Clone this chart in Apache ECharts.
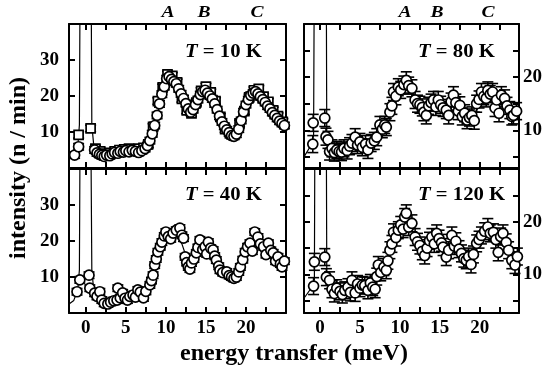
<!DOCTYPE html>
<html>
<head>
<meta charset="utf-8">
<script src="https://cdn.jsdelivr.net/npm/echarts@6/dist/echarts.min.js"></script>
<style>
  html, body { margin: 0; padding: 0; background: #fff; }
  #chart { width: 553px; height: 370px; }
</style>
</head>
<body>
<div id="chart"></div>
<script>
// energy transfer (meV) vs intensity (n / min), four temperatures
var t10Circles = [[-1.4,3.6],[-0.9,5.9],[1.1,5.0],[1.4,4.2],[1.7,3.8],[2.0,3.5],[2.3,3.2],[2.6,3.6],[3.0,3.4],[3.3,3.9],[3.6,4.3],[4.0,4.1],[4.3,4.6],[4.7,4.4],[5.0,4.8],[5.4,4.5],[5.8,4.9],[6.2,4.6],[6.6,4.3],[7.0,4.8],[7.4,5.4],[7.7,6.2],[8.0,7.6],[8.3,9.5],[8.6,11.8],[8.9,14.6],[9.2,17.8],[9.5,20.5],[9.8,22.6],[10.1,24.8],[10.4,25.4],[10.7,24.6],[11.0,24.0],[11.3,23.4],[11.6,22.0],[11.9,20.6],[12.2,19.3],[12.5,17.9],[12.8,16.4],[13.1,15.5],[13.4,16.2],[13.7,17.6],[14.0,19.0],[14.3,20.4],[14.6,21.2],[14.9,21.6],[15.2,20.8],[15.5,20.0],[15.8,19.2],[16.1,17.8],[16.4,16.2],[16.7,14.4],[17.0,12.8],[17.3,11.6],[17.6,10.6],[17.9,9.8],[18.2,9.0],[18.5,8.8],[18.8,9.4],[19.1,10.8],[19.4,13.2],[19.7,15.6],[20.0,17.6],[20.3,19.0],[20.6,20.2],[20.9,20.8],[21.2,21.2],[21.5,20.6],[21.8,19.8],[22.1,19.0],[22.4,18.2],[22.7,17.2],[23.0,16.4],[23.3,15.4],[23.6,14.6],[23.9,13.8],[24.2,13.0],[24.5,12.4],[24.8,11.8]];
var t10Squares = [[-0.9,9.2],[0.6,11.0],[1.2,5.4],[1.8,4.6],[2.4,4.0],[3.0,4.2],[3.6,4.6],[4.2,5.0],[4.8,5.2],[5.4,5.4],[6.0,5.2],[6.6,5.4],[7.2,5.6],[7.8,6.6],[8.4,11.4],[9.0,18.6],[9.6,22.4],[10.2,26.0],[10.8,25.6],[11.4,23.8],[12.0,19.2],[12.6,16.0],[13.2,15.2],[13.8,18.2],[14.4,21.4],[15.0,22.6],[15.6,21.0],[16.2,18.6],[16.8,14.2],[17.4,10.8],[18.0,9.6],[18.6,9.4],[19.2,12.4],[19.8,15.8],[20.4,19.6],[21.0,21.6],[21.6,22.0],[22.2,19.8],[22.8,18.4],[23.4,16.0],[24.0,14.4],[24.6,12.8]];
var t10Fit = [[-2.1,2.5],[-1.5,3.5],[-1.0,6],[-0.8,12],[-0.7,60],[0.65,60],[0.75,12],[1.0,6],[1.5,4.5],[2.5,3.9],[4,4.3],[5.5,4.7],[7,5],[7.8,6.5],[8.5,10.5],[9.2,17.5],[9.8,22.5],[10.3,24.8],[10.9,24.6],[11.6,22.2],[12.4,18.2],[13.1,16.2],[13.8,17.8],[14.6,20.4],[15.2,20.6],[15.9,18.6],[16.8,14.0],[17.6,10.6],[18.4,9.2],[19.1,10.8],[19.8,15.4],[20.5,19.2],[21.2,20.6],[22,19.4],[23,16.6],[24,13.8],[25,11.6]];

var t40Points = [[-1.1,5.9],[-0.75,9.2],[0.4,10.5],[0.5,6.9],[1.1,5.5],[1.4,4.6],[1.75,5.9],[2.0,3.6],[2.3,2.7],[2.75,2.5],[3.1,3.0],[3.5,3.4],[3.9,3.6],[4.0,6.9],[4.3,4.2],[4.6,5.6],[4.9,4.1],[5.2,3.6],[5.5,4.6],[5.9,5.0],[6.2,4.4],[6.5,6.4],[6.8,5.8],[7.2,4.2],[7.5,6.0],[8.0,7.8],[8.2,9.0],[8.4,10.5],[8.6,13.3],[8.8,15.0],[9.0,17.0],[9.3,18.4],[9.5,19.7],[9.8,21.4],[10.0,22.5],[10.3,21.2],[10.6,20.6],[10.9,22.2],[11.3,23.0],[11.75,23.6],[12.0,21.6],[12.2,20.8],[12.4,15.6],[12.6,14.0],[12.8,12.8],[13.0,12.2],[13.2,13.9],[13.5,15.0],[13.8,16.7],[14.0,18.2],[14.25,20.3],[14.6,17.6],[14.9,18.4],[15.1,16.4],[15.3,19.7],[15.6,18.0],[15.9,17.5],[16.1,15.8],[16.3,14.7],[16.6,13.0],[16.75,11.9],[17.1,11.2],[17.6,11.4],[17.9,10.4],[18.2,10.0],[18.5,9.6],[18.8,10.0],[19.1,11.4],[19.3,12.8],[19.6,14.8],[19.9,17.0],[20.2,18.4],[20.5,19.4],[20.8,17.2],[21.1,22.5],[21.5,21.1],[21.8,19.2],[22.2,18.4],[22.5,16.2],[22.8,19.4],[23.1,17.4],[23.4,16.7],[23.7,14.4],[24.0,15.6],[24.3,13.6],[24.5,12.8],[24.8,14.4]];
var t40Fit = [[-2.1,2.5],[-1.5,3.5],[-1.0,6.5],[-0.8,12],[-0.7,60],[0.6,60],[0.75,12],[1.0,6],[1.6,4.2],[2.5,3.2],[4,3.8],[5.5,4.4],[7,5.2],[7.8,6.8],[8.5,11],[9.2,17.5],[9.8,20.8],[10.5,21.6],[11.4,21.4],[12.0,19.2],[12.7,14.6],[13.2,14.2],[14.0,17.0],[14.8,18.2],[15.6,17.4],[16.4,14.2],[17.2,11.4],[18.0,10.2],[18.7,10.0],[19.4,13.0],[20.2,17.2],[21.0,19.2],[21.8,18.6],[22.6,17.4],[23.4,15.8],[24.2,13.8],[25,12.4]];

var t80Points = [[-0.9,7.4],[-0.85,11.4],[0.6,12.3],[0.75,8.8],[1.0,8.2],[1.2,6.0],[1.5,6.6],[1.8,5.8],[2.1,6.3],[2.4,6.0],[2.7,5.9],[3.0,6.6],[3.4,6.2],[3.7,7.0],[4.0,7.6],[4.4,8.7],[4.7,7.2],[5.0,7.8],[5.3,6.8],[5.7,7.4],[6.0,6.3],[6.4,7.6],[6.8,8.0],[7.1,8.7],[7.5,11.0],[7.8,10.2],[8.1,11.0],[8.3,10.6],[8.75,13.4],[9.0,14.6],[9.2,17.2],[9.5,16.4],[9.8,18.1],[10.1,17.6],[10.5,18.6],[10.8,19.4],[11.1,18.4],[11.5,17.9],[11.9,15.7],[12.2,15.0],[12.5,14.8],[12.8,14.3],[13.0,13.4],[13.3,12.8],[13.6,14.6],[13.9,15.2],[14.2,15.7],[14.5,14.4],[14.8,15.7],[15.1,14.8],[15.4,14.2],[15.8,13.8],[16.1,12.8],[16.4,15.4],[16.7,16.6],[17.0,15.2],[17.3,13.6],[17.5,14.7],[17.8,12.6],[18.1,13.2],[18.4,11.9],[18.7,12.4],[19.0,12.8],[19.3,11.8],[19.6,15.0],[19.9,15.8],[20.2,17.2],[20.5,16.4],[20.8,16.0],[21.0,17.5],[21.3,16.8],[21.6,17.2],[21.9,14.2],[22.1,15.7],[22.4,13.2],[22.7,16.6],[23.1,16.0],[23.4,14.6],[23.75,13.8],[24.0,12.6],[24.2,12.8],[24.6,13.6]];
var t80Fit = [[-2,5],[-1.2,7],[-0.8,9],[-0.6,80],[0.7,80],[0.85,9],[1.2,7],[2,6.2],[3.5,6.6],[5,7.2],[6.5,7.8],[7.5,9.2],[8.5,12.0],[9.5,16.2],[10.5,18.4],[11.3,17.8],[12.2,15.4],[13.2,13.8],[14.2,14.8],[15.0,15.0],[16.0,14.2],[16.8,14.6],[17.8,13.4],[18.8,12.4],[19.6,13.8],[20.5,16.0],[21.3,16.6],[22.2,15.6],[23.2,14.4],[24.2,13.2],[25,12.6]];

var t120Points = [[-0.8,7.8],[-0.7,12.4],[0.6,13.3],[0.8,9.5],[1.2,8.9],[1.5,7.2],[1.8,6.4],[2.1,7.4],[2.5,6.8],[2.8,6.2],[3.1,7.0],[3.5,7.6],[3.8,6.6],[4.0,8.9],[4.4,6.5],[4.7,8.2],[5.0,7.4],[5.3,8.0],[5.6,7.9],[6.0,7.0],[6.3,8.4],[6.6,7.6],[6.9,7.2],[7.1,9.6],[7.3,11.8],[7.6,10.4],[8.0,11.4],[8.3,10.8],[8.5,12.6],[8.75,14.6],[9.0,15.8],[9.2,18.0],[9.5,17.0],[9.8,18.4],[10.1,19.4],[10.4,18.6],[10.6,20.9],[10.8,21.6],[11.1,19.0],[11.5,19.7],[11.9,17.1],[12.2,16.2],[12.5,15.5],[12.8,14.4],[13.1,13.6],[13.4,15.0],[13.7,16.4],[14.0,17.1],[14.3,15.8],[14.6,17.8],[14.9,16.8],[15.2,16.0],[15.4,15.2],[15.8,13.3],[16.1,14.6],[16.5,17.4],[16.8,15.4],[17.0,16.3],[17.4,14.8],[17.7,14.0],[18.0,13.0],[18.3,12.7],[18.6,13.4],[18.9,11.9],[19.2,13.8],[19.6,15.9],[19.9,16.6],[20.2,17.4],[20.6,18.2],[21.0,19.0],[21.3,17.8],[21.7,18.0],[22.0,16.6],[22.3,14.2],[22.6,17.2],[22.9,17.8],[23.3,16.1],[23.6,14.6],[24.0,12.7],[24.4,11.8],[24.7,13.4]];
var t120Fit = [[-2,5.5],[-1.2,7.2],[-0.7,9],[-0.55,80],[0.7,80],[0.85,10],[1.2,8],[2,7],[3.5,7.2],[5,7.6],[6.5,8.2],[7.5,10.0],[8.5,13.0],[9.5,17.4],[10.6,19.8],[11.4,18.8],[12.3,16.0],[13.2,14.6],[14.2,16.2],[15.0,16.0],[16.0,15.2],[16.8,15.8],[17.8,14.0],[18.8,13.0],[19.6,15.0],[20.5,17.4],[21.3,17.8],[22.2,16.4],[23.2,15.0],[24.2,13.0],[25,12.4]];

var xTicks = [0, 2.5, 5, 7.5, 10, 12.5, 15, 17.5, 20, 22.5];
var xTickLabels = [0, 5, 10, 15, 20];
var leftYTicks = [10, 20, 30];
var rightYTicks = [5, 10, 15, 20, 25];
var rightYLabels = [10, 20];
var errLeft = 0.9;
var errRight = 1.6;

var FONT = "'Liberation Serif', 'DejaVu Serif', serif";
var chart = echarts.init(document.getElementById('chart'));

var panels = [
  { left: 69, top: 24, width: 217, xmin: -2.1, xmax: 25, ymin: 0, ymax: 40, side: 'left', bottomLabels: false },
  { left: 304, top: 24, width: 215, xmin: -2, xmax: 24.9, ymin: 2.9, ymax: 30, side: 'right', bottomLabels: false },
  { left: 69, top: 169, width: 217, xmin: -2.1, xmax: 25, ymin: 0, ymax: 40, side: 'left', bottomLabels: true },
  { left: 304, top: 169, width: 215, xmin: -2, xmax: 24.9, ymin: 2.7, ymax: 30, side: 'right', bottomLabels: true }
];

var grids = [], xAxes = [], yAxes = [];
var lineStyle = { color: '#000', width: 2 };
var labelStyle = { color: '#000', fontFamily: FONT, fontWeight: 'bold', fontSize: 19 };
panels.forEach(function (p, i) {
  grids.push({ left: p.left, top: p.top, width: p.width, height: 144 });
  ['bottom', 'top'].forEach(function (pos) {
    xAxes.push({
      gridIndex: i, type: 'value', position: pos, min: p.xmin, max: p.xmax,
      axisLine: { show: true, onZero: false, lineStyle: lineStyle },
      axisTick: { show: true, inside: true, length: 6, lineStyle: lineStyle, customValues: xTicks },
      axisLabel: Object.assign({ show: pos === 'bottom' && p.bottomLabels, customValues: xTickLabels, margin: 6 }, labelStyle),
      splitLine: { show: false }
    });
  });
  ['left', 'right'].forEach(function (pos) {
    var ticks = p.side === 'left' ? leftYTicks : rightYTicks;
    var labels = p.side === 'left' ? leftYTicks : rightYLabels;
    yAxes.push({
      gridIndex: i, type: 'value', position: pos, min: p.ymin, max: p.ymax,
      axisLine: { show: true, onZero: false, lineStyle: lineStyle },
      axisTick: { show: true, inside: true, length: 6, lineStyle: lineStyle, customValues: ticks },
      axisLabel: Object.assign({ show: pos === p.side, customValues: labels, margin: pos === 'left' ? 10 : 4 }, labelStyle),
      splitLine: { show: false }
    });
  });
});

function fitSeries(i, data) {
  return {
    type: 'line', xAxisIndex: 2 * i, yAxisIndex: 2 * i, data: data, showSymbol: false,
    lineStyle: { color: '#000', width: 1.2 }, clip: true, z: 1, silent: true
  };
}
function errSeries(i, data, err) {
  return {
    type: 'custom', xAxisIndex: 2 * i, yAxisIndex: 2 * i, z: 2, silent: true,
    data: data.map(function (d) { return [d[0], d[1] - err, d[1] + err]; }),
    renderItem: function (params, api) {
      var lo = api.coord([api.value(0), api.value(1)]);
      var hi = api.coord([api.value(0), api.value(2)]);
      var w = 5.5;
      var st = { stroke: '#000', lineWidth: 1.6 };
      return {
        type: 'group',
        children: [
          { type: 'line', shape: { x1: lo[0], y1: lo[1], x2: hi[0], y2: hi[1] }, style: st },
          { type: 'line', shape: { x1: lo[0] - w, y1: lo[1], x2: lo[0] + w, y2: lo[1] }, style: st },
          { type: 'line', shape: { x1: hi[0] - w, y1: hi[1], x2: hi[0] + w, y2: hi[1] }, style: st }
        ]
      };
    }
  };
}
function pointSeries(i, data, symbol) {
  return {
    type: 'scatter', xAxisIndex: 2 * i, yAxisIndex: 2 * i, data: data, z: 3,
    symbol: symbol || 'circle', symbolSize: symbol === 'rect' ? 9 : 10,
    itemStyle: { color: '#fff', borderColor: '#000', borderWidth: 1.7, opacity: 1 }
  };
}

var series = [
  fitSeries(0, t10Fit), errSeries(0, t10Circles, errLeft), errSeries(0, t10Squares, errLeft),
  pointSeries(0, t10Squares, 'rect'), pointSeries(0, t10Circles),
  fitSeries(1, t80Fit), errSeries(1, t80Points, errRight), pointSeries(1, t80Points),
  fitSeries(2, t40Fit), errSeries(2, t40Points, errLeft), pointSeries(2, t40Points),
  fitSeries(3, t120Fit), errSeries(3, t120Points, errRight), pointSeries(3, t120Points)
];

function tempLabel(x, y, val) {
  return {
    type: 'text', x: x, y: y, z: 10, scaleX: 1.15, originX: 0, originY: 0,
    style: {
      text: '{i|T} = ' + val + ' K', fill: '#000', font: 'bold 18px ' + FONT, verticalAlign: 'middle',
      rich: { i: { fontStyle: 'italic', fontWeight: 'bold', fontFamily: FONT, fontSize: 18 } }
    }
  };
}
function peakLabel(x, txt) {
  return {
    type: 'text', x: x, y: 13, z: 10, scaleX: 1.15,
    style: { text: txt, fill: '#000', font: 'italic bold 17px ' + FONT, align: 'center', verticalAlign: 'middle' }
  };
}

chart.setOption({
  animation: false,
  backgroundColor: '#fff',
  grid: grids,
  xAxis: xAxes,
  yAxis: yAxes,
  series: series,
  graphic: [
    tempLabel(185, 52, '10'), tempLabel(418, 52, '80'),
    tempLabel(185, 195, '40'), tempLabel(418, 195, '120'),
    peakLabel(168, 'A'), peakLabel(204, 'B'), peakLabel(257, 'C'),
    peakLabel(405, 'A'), peakLabel(437, 'B'), peakLabel(488, 'C'),
    {
      type: 'text', x: 19, y: 168, rotation: Math.PI / 2, z: 10,
      style: { text: 'intensity (n / min)', fill: '#000', font: 'bold 24px ' + FONT, align: 'center', verticalAlign: 'middle' }
    },
    {
      type: 'text', x: 294, y: 354, z: 10,
      style: { text: 'energy transfer (meV)', fill: '#000', font: 'bold 24px ' + FONT, align: 'center', verticalAlign: 'middle' }
    }
  ]
});
</script>
</body>
</html>
